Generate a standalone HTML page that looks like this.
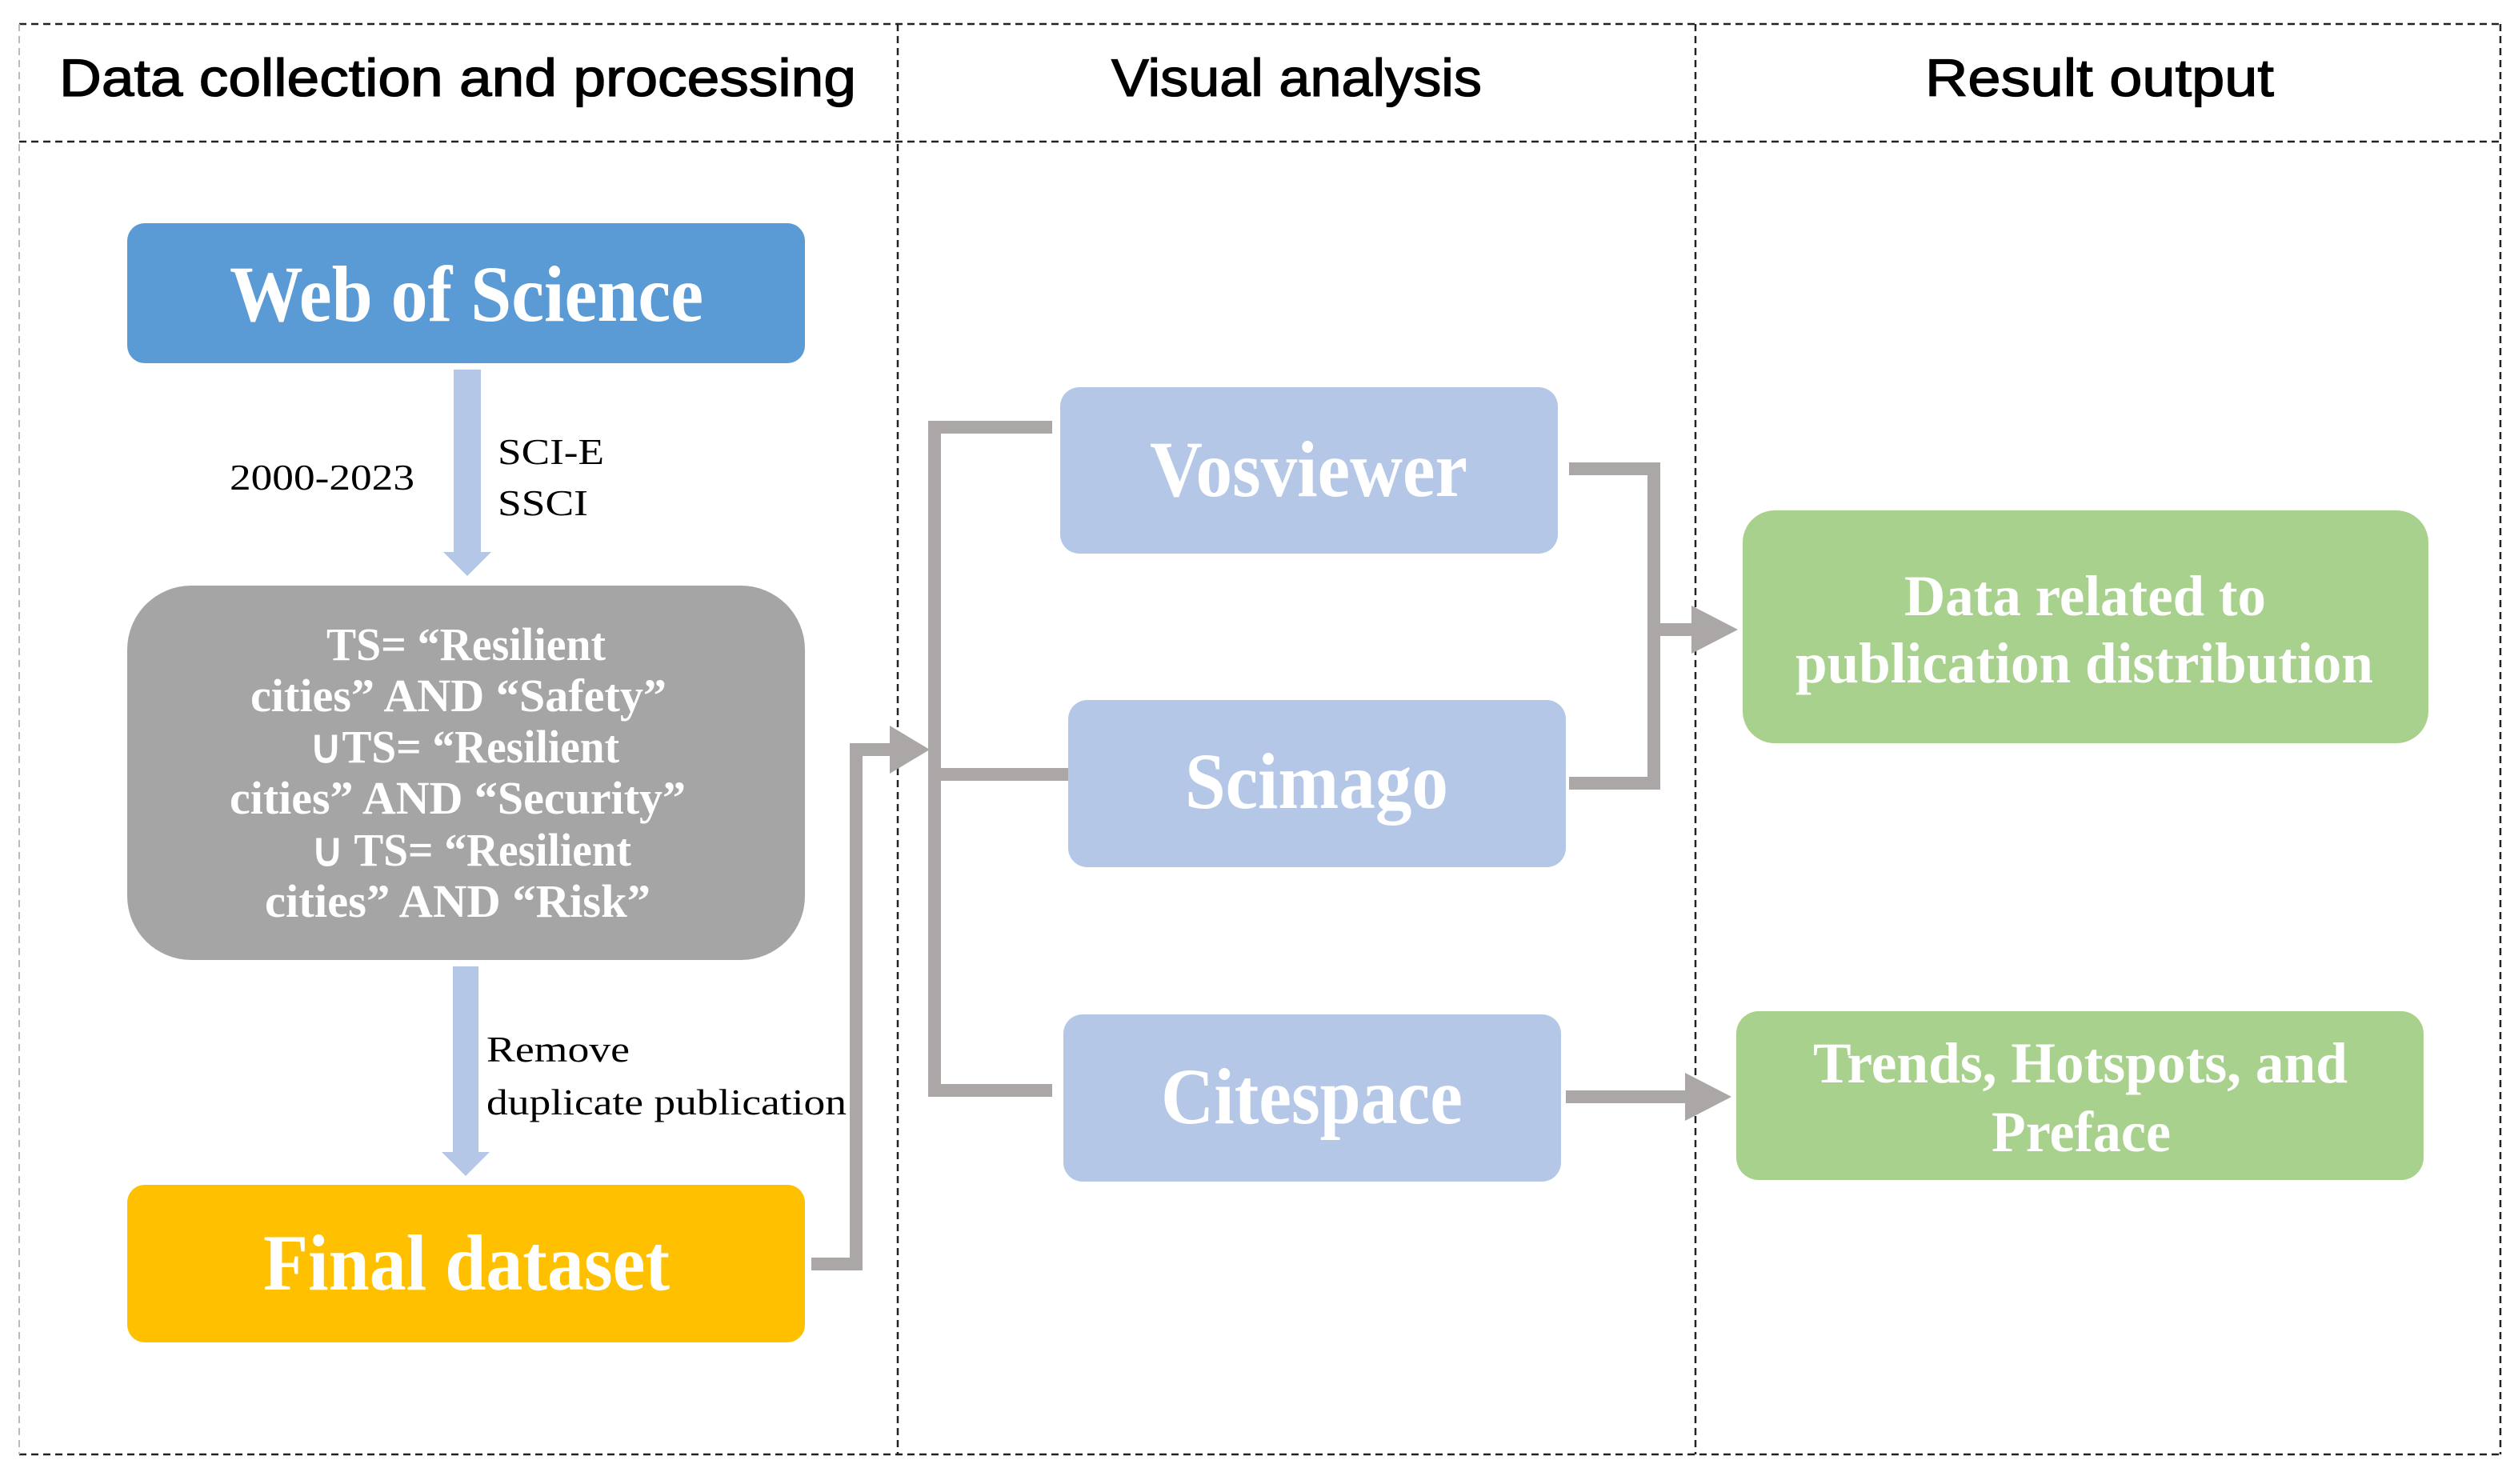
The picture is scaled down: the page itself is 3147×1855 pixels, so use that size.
<!DOCTYPE html>
<html><head><meta charset="utf-8"><style>
html,body{margin:0;padding:0;background:#fff;}
svg{display:block;}
.h{font-family:"Liberation Sans",sans-serif;font-size:66px;fill:#000;stroke:#000;stroke-width:1.3px;}
.b{font-family:"Liberation Serif",serif;font-weight:bold;fill:#fff;}
.n{font-family:"Liberation Serif",serif;fill:#000;font-size:46px;}
</style></head><body>
<svg width="3147" height="1855" viewBox="0 0 3147 1855" xmlns="http://www.w3.org/2000/svg">
<g stroke="#222" stroke-width="2.5" stroke-dasharray="9,6" fill="none">
<line x1="24" y1="30" x2="3125" y2="30"/>
<line x1="24" y1="177" x2="3125" y2="177"/>
<line x1="24" y1="1818" x2="3125" y2="1818"/>
<line x1="3125" y1="30" x2="3125" y2="1818"/>
<line x1="1122" y1="30" x2="1122" y2="1818"/>
<line x1="2119" y1="30" x2="2119" y2="1818"/>
</g>
<line x1="24" y1="30" x2="24" y2="1818" stroke="#bbb" stroke-width="2" stroke-dasharray="9,6"/>
<text class="h" x="74" y="120" textLength="996" lengthAdjust="spacingAndGlyphs">Data collection and processing</text>
<text class="h" x="1389" y="120" textLength="463" lengthAdjust="spacingAndGlyphs">Visual analysis</text>
<text class="h" x="2406" y="120" textLength="436" lengthAdjust="spacingAndGlyphs">Result output</text>

<rect x="159" y="279" width="847" height="175" rx="22" fill="#5B9BD5"/>
<text class="b" x="287" y="401" font-size="100" textLength="592" lengthAdjust="spacingAndGlyphs">Web of Science</text>

<polygon points="567,462 601,462 601,690 614,690 584,720 554,690 567,690" fill="#B4C7E7"/>
<text class="n" x="287" y="612" textLength="231" lengthAdjust="spacingAndGlyphs">2000-2023</text>
<text class="n" x="622" y="580" textLength="133" lengthAdjust="spacingAndGlyphs">SCI-E</text>
<text class="n" x="622" y="644" textLength="113" lengthAdjust="spacingAndGlyphs">SSCI</text>

<rect x="159" y="732" width="847" height="468" rx="80" fill="#A5A5A5"/>
<g class="b" font-size="58">
<text x="408" y="825" textLength="349" lengthAdjust="spacingAndGlyphs">TS= “Resilient</text>
<text x="313" y="889" textLength="520" lengthAdjust="spacingAndGlyphs">cities” AND “Safety”</text>
<text x="387" y="953" textLength="387" lengthAdjust="spacingAndGlyphs">∪TS= “Resilient</text>
<text x="287" y="1017" textLength="570" lengthAdjust="spacingAndGlyphs">cities” AND “Security”</text>
<text x="389" y="1082" textLength="400" lengthAdjust="spacingAndGlyphs">∪ TS= “Resilient</text>
<text x="331" y="1146" textLength="482" lengthAdjust="spacingAndGlyphs">cities” AND “Risk”</text>
</g>

<polygon points="566,1208 598,1208 598,1440 612,1440 582,1470 552,1440 566,1440" fill="#B4C7E7"/>
<text class="n" x="608" y="1327" textLength="179" lengthAdjust="spacingAndGlyphs">Remove</text>
<text class="n" x="608" y="1393" textLength="450" lengthAdjust="spacingAndGlyphs">duplicate publication</text>

<rect x="159" y="1481" width="847" height="197" rx="22" fill="#FFC000"/>
<text class="b" x="329" y="1612" font-size="100" textLength="508" lengthAdjust="spacingAndGlyphs">Final dataset</text>

<g fill="none" stroke="#ABA7A7" stroke-width="16">
<polyline points="1014,1580 1070,1580 1070,937 1120,937"/>
<polyline points="1315,534 1168,534 1168,1363 1315,1363"/>
<line x1="1168" y1="968" x2="1337" y2="968"/>
<polyline points="1961,586 2067,586 2067,979 1961,979"/>
<line x1="2067" y1="787" x2="2120" y2="787"/>
<line x1="1957" y1="1371" x2="2110" y2="1371"/>
</g>
<g fill="#ABA7A7">
<polygon points="1112,907 1162,937 1112,967"/>
<polygon points="2114,757 2172,787 2114,817"/>
<polygon points="2106,1341 2164,1371 2106,1401"/>
</g>

<rect x="1325" y="484" width="622" height="208" rx="24" fill="#B4C7E7"/>
<text class="b" x="1437" y="620" font-size="100" textLength="397" lengthAdjust="spacingAndGlyphs">Vosviewer</text>
<rect x="1335" y="875" width="622" height="209" rx="24" fill="#B4C7E7"/>
<text class="b" x="1481" y="1010" font-size="100" textLength="329" lengthAdjust="spacingAndGlyphs">Scimago</text>
<rect x="1329" y="1268" width="622" height="209" rx="24" fill="#B4C7E7"/>
<text class="b" x="1451" y="1404" font-size="100" textLength="377" lengthAdjust="spacingAndGlyphs">Citespace</text>

<rect x="2178" y="638" width="857" height="291" rx="40" fill="#A9D18E"/>
<text class="b" x="2380" y="769" font-size="72" textLength="452" lengthAdjust="spacingAndGlyphs">Data related to</text>
<text class="b" x="2244" y="853" font-size="72" textLength="722" lengthAdjust="spacingAndGlyphs">publication distribution</text>
<rect x="2170" y="1264" width="859" height="211" rx="28" fill="#A9D18E"/>
<text class="b" x="2266" y="1353" font-size="72" textLength="668" lengthAdjust="spacingAndGlyphs">Trends, Hotspots, and</text>
<text class="b" x="2489" y="1439" font-size="72" textLength="224" lengthAdjust="spacingAndGlyphs">Preface</text>
</svg>
</body></html>
